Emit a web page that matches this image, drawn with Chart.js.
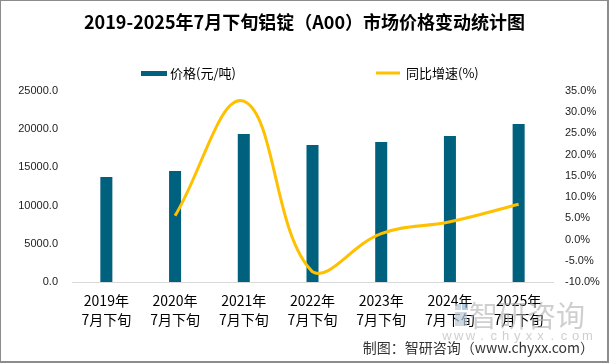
<!DOCTYPE html>
<html>
<head>
<meta charset="utf-8">
<script src="https://cdn.jsdelivr.net/npm/chart.js@4.4.1/dist/chart.umd.min.js"></script>
<style>
  html, body { margin: 0; padding: 0; background: #fff; }
  #wrap { width: 609px; height: 363px; position: relative; }
</style>
</head>
<body>
<div id="wrap"><canvas id="myChart" width="609" height="363"></canvas></div>
<script>
const years = ['2019年', '2020年', '2021年', '2022年', '2023年', '2024年', '2025年'];
const period = '7月下旬';
const prices = [13750, 14530, 19370, 17930, 18330, 19110, 20680];
const growth = [null, 5.6, 32.6, -7.6, 1.4, 4.2, 8.3];
const priceTicks = { min: 0, max: 25000, step: 5000 };
const growthTicks = { min: -10, max: 35, step: 5 };

const cjk = '"Noto Sans CJK SC", "Noto Sans", sans-serif';
const num = '"Liberation Sans", Arial, sans-serif';
const barColor = '#00617f';
const lineColor = '#ffc000';

// title, legend, watermark, footer and frame
const extras = {
    id: 'extras',
    afterDraw(chart) {
        const c = chart.ctx;
        c.save();

        c.fillStyle = '#000';
        c.font = 'bold 18px ' + cjk;
        c.textAlign = 'center';
        c.textBaseline = 'middle';
        c.fillText('2019-2025年7月下旬铝锭（A00）市场价格变动统计图', 304.5, 22);

        c.font = '13px ' + cjk;
        c.textAlign = 'left';
        c.fillStyle = barColor;
        c.fillRect(141, 71, 26, 5);
        c.fillStyle = '#000';
        c.fillText(chart.data.datasets[1].label, 170, 73);
        c.strokeStyle = lineColor;
        c.lineWidth = 3;
        c.beginPath();
        c.moveTo(376, 73);
        c.lineTo(400, 73);
        c.stroke();
        c.fillText(chart.data.datasets[0].label, 406, 73);

        // watermark
        c.fillStyle = 'rgba(185,200,215,0.7)';
        c.fillRect(455, 304, 6, 6);
        c.fillRect(455, 312, 12, 14);
        c.fillStyle = 'rgba(120,160,200,0.55)';
        c.fillRect(462, 304, 6, 6);
        c.fillStyle = 'rgba(175,175,175,0.6)';
        c.font = '29px ' + cjk;
        c.fillText('智研咨询', 469, 316);
        c.font = '13px ' + num;
        c.textAlign = 'center';
        const w = 'www.chyxx.com';
        for (let i = 0; i < w.length; i++) {
            c.fillText(w[i], 447 + i * 11.7, 336);
        }

        c.fillStyle = '#333';
        c.font = '14px ' + cjk;
        c.textAlign = 'right';
        c.fillText('制图：智研咨询（www.chyxx.com）', 594, 348);

        c.strokeStyle = '#8c8c8c';
        c.lineWidth = 2;
        c.strokeRect(0, 0, 608, 362);
        c.restore();
    }
};

const ctx = document.getElementById('myChart').getContext('2d');

new Chart(ctx, {
    type: 'bar',
    data: {
        labels: years.map(y => [y, period]),
        datasets: [
            {
                type: 'line',
                label: '同比增速(%)',
                data: growth,
                yAxisID: 'y1',
                borderColor: lineColor,
                borderWidth: 3,
                pointRadius: 0,
                tension: 0.4,
                fill: false,
                order: 0
            },
            {
                label: '价格(元/吨)',
                data: prices,
                yAxisID: 'y',
                backgroundColor: barColor,
                barPercentage: 0.7,
                categoryPercentage: 0.25,
                order: 1
            }
        ]
    },
    plugins: [extras],
    options: {
        responsive: false,
        animation: false,
        layout: { padding: { top: 91, left: 0, right: 0, bottom: 0 } },
        plugins: {
            legend: { display: false },
            title: { display: false },
            tooltip: { enabled: false }
        },
        scales: {
            x: {
                grid: { display: false, drawTicks: false },
                border: { display: true, color: '#d9d9d9', width: 1 },
                ticks: {
                    color: '#000',
                    padding: 10,
                    maxRotation: 0,
                    font: { family: cjk, size: 14, lineHeight: 1.3 }
                },
                afterFit(scale) { scale.height = 81; }
            },
            y: {
                position: 'left',
                min: priceTicks.min,
                max: priceTicks.max,
                grid: { display: false, drawTicks: false },
                border: { display: false },
                ticks: {
                    stepSize: priceTicks.step,
                    color: '#222',
                    padding: 14,
                    font: { family: num, size: 11 },
                    callback: v => v.toFixed(1)
                },
                afterFit(scale) { scale.width = 72; }
            },
            y1: {
                position: 'right',
                min: growthTicks.min,
                max: growthTicks.max,
                grid: { display: false, drawTicks: false },
                border: { display: false },
                ticks: {
                    stepSize: growthTicks.step,
                    color: '#222',
                    padding: 12,
                    font: { family: num, size: 11 },
                    callback: v => v.toFixed(1) + '%'
                },
                afterFit(scale) { scale.width = 56; }
            }
        }
    }
});
</script>
</body>
</html>
